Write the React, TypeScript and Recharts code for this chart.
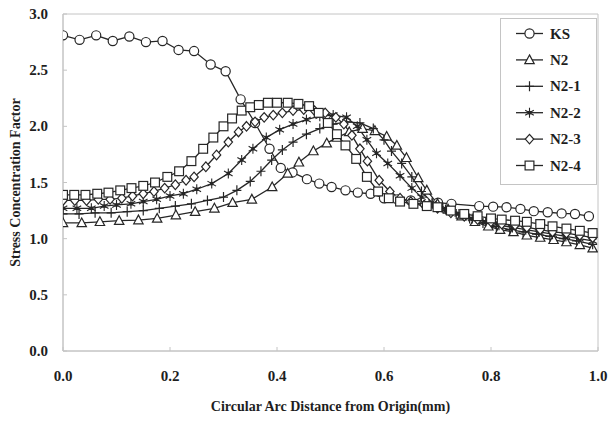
import React from 'react';
import { LineChart, Line, XAxis, YAxis, ReferenceArea, Legend } from 'recharts';

// ---- data ----
const ksX = [0, 0.031, 0.062, 0.093, 0.124, 0.155, 0.186, 0.216, 0.245, 0.276, 0.304, 0.332, 0.359, 0.386, 0.407, 0.429, 0.456, 0.479, 0.502, 0.528, 0.551, 0.575, 0.6, 0.625, 0.65, 0.676, 0.701, 0.726, 0.778, 0.804, 0.829, 0.855, 0.88, 0.906, 0.932, 0.957, 0.983];
const ksY = [2.81, 2.77, 2.81, 2.76, 2.8, 2.75, 2.76, 2.68, 2.67, 2.55, 2.49, 2.24, 2.03, 1.8, 1.63, 1.59, 1.53, 1.49, 1.46, 1.43, 1.41, 1.4, 1.36, 1.35, 1.34, 1.33, 1.32, 1.31, 1.29, 1.285, 1.28, 1.265, 1.245, 1.235, 1.225, 1.22, 1.2];

const n2X = [0, 0.035, 0.069, 0.105, 0.141, 0.176, 0.211, 0.247, 0.283, 0.317, 0.353, 0.391, 0.42, 0.441, 0.468, 0.493, 0.512, 0.535, 0.56, 0.583, 0.605, 0.624, 0.642, 0.664, 0.68, 0.7, 0.72, 0.745, 0.77, 0.795, 0.817, 0.842, 0.867, 0.892, 0.917, 0.941, 0.966, 0.99];
const n2Y = [1.14, 1.14, 1.15, 1.16, 1.165, 1.18, 1.21, 1.24, 1.27, 1.32, 1.35, 1.46, 1.58, 1.68, 1.78, 1.85, 1.9, 1.95, 1.98, 1.96, 1.91, 1.83, 1.72, 1.54, 1.43, 1.31, 1.26, 1.2, 1.15, 1.11, 1.08, 1.06, 1.03, 1.01, 0.99, 0.97, 0.945, 0.915];

const n21X = [0, 0.03, 0.06, 0.09, 0.12, 0.15, 0.18, 0.21, 0.24, 0.27, 0.3, 0.325, 0.35, 0.37, 0.39, 0.41, 0.43, 0.455, 0.48, 0.505, 0.53, 0.555, 0.58, 0.6, 0.614, 0.633, 0.652, 0.67, 0.69, 0.71, 0.735, 0.76, 0.785, 0.81, 0.835, 0.86, 0.885, 0.91, 0.935, 0.96, 0.99];
const n21Y = [1.22, 1.22, 1.23, 1.23, 1.24, 1.25, 1.27, 1.29, 1.31, 1.34, 1.37, 1.43, 1.51, 1.6, 1.7, 1.79, 1.86, 1.93, 1.98, 2.02, 2.04, 2.03, 1.98, 1.88, 1.78, 1.67, 1.55, 1.42, 1.32, 1.27, 1.22, 1.18, 1.14, 1.11, 1.08, 1.06, 1.04, 1.02, 1.0, 0.98, 0.95];

const n22X = [0, 0.026, 0.053, 0.077, 0.1, 0.127, 0.15, 0.175, 0.2, 0.225, 0.25, 0.278, 0.309, 0.334, 0.355, 0.38, 0.405, 0.43, 0.455, 0.48, 0.505, 0.53, 0.55, 0.568, 0.586, 0.607, 0.63, 0.652, 0.67, 0.69, 0.715, 0.74, 0.765, 0.79, 0.815, 0.84, 0.865, 0.89, 0.915, 0.94, 0.965, 0.99];
const n22Y = [1.27, 1.27, 1.27, 1.29, 1.3, 1.31, 1.33, 1.35, 1.38, 1.4, 1.44, 1.49, 1.58, 1.7, 1.8, 1.9, 1.97, 2.02, 2.06, 2.09, 2.1, 2.08, 2.0, 1.88, 1.76, 1.67, 1.56, 1.45, 1.37, 1.31, 1.26, 1.22, 1.18, 1.15, 1.12, 1.1, 1.08, 1.06, 1.04, 1.02, 1.0, 0.98];

const n23X = [0, 0.022, 0.044, 0.066, 0.088, 0.11, 0.13, 0.15, 0.17, 0.19, 0.21, 0.23, 0.245, 0.267, 0.287, 0.309, 0.328, 0.343, 0.359, 0.376, 0.393, 0.41, 0.43, 0.45, 0.47, 0.49, 0.51, 0.525, 0.54, 0.555, 0.569, 0.591, 0.611, 0.63, 0.65, 0.675, 0.7, 0.725, 0.75, 0.775, 0.8, 0.82, 0.845, 0.867, 0.892, 0.915, 0.941, 0.966, 0.99];
const n23Y = [1.34, 1.34, 1.34, 1.35, 1.35, 1.36, 1.38, 1.4, 1.42, 1.45, 1.48, 1.52, 1.55, 1.64, 1.745, 1.86, 1.95, 2.0, 2.04, 2.08, 2.1, 2.12, 2.14, 2.15, 2.14, 2.12, 2.08, 2.02, 1.92, 1.8, 1.69, 1.52, 1.42, 1.36, 1.33, 1.3, 1.27, 1.23, 1.2, 1.17, 1.15, 1.13, 1.12, 1.1, 1.08, 1.06, 1.05, 1.03, 1.01];

const n24X = [0, 0.021, 0.042, 0.064, 0.085, 0.107, 0.128, 0.15, 0.172, 0.195, 0.217, 0.24, 0.262, 0.281, 0.3, 0.316, 0.334, 0.35, 0.366, 0.383, 0.4, 0.42, 0.44, 0.46, 0.478, 0.495, 0.512, 0.528, 0.548, 0.568, 0.589, 0.609, 0.63, 0.655, 0.68, 0.7, 0.725, 0.75, 0.775, 0.8, 0.82, 0.845, 0.867, 0.892, 0.915, 0.941, 0.966, 0.99];
const n24Y = [1.39, 1.39, 1.39, 1.4, 1.41, 1.43, 1.45, 1.47, 1.5, 1.55, 1.6, 1.69, 1.8, 1.9, 2.0, 2.07, 2.14, 2.17, 2.19, 2.21, 2.21, 2.21, 2.2, 2.18, 2.12, 2.03, 1.93, 1.83, 1.71, 1.55, 1.42, 1.36, 1.33, 1.31, 1.29, 1.28, 1.25, 1.22, 1.2, 1.18, 1.17, 1.16, 1.15, 1.13, 1.11, 1.09, 1.07, 1.05];

const xTicks = [0, 0.2, 0.4, 0.6, 0.8, 1.0];
const yTicks = [0, 0.5, 1.0, 1.5, 2.0, 2.5, 3.0];
const seriesNames = ['KS', 'N2', 'N2-1', 'N2-2', 'N2-3', 'N2-4'];
const markerTypes = ['circle', 'triangle', 'plus', 'star', 'diamond', 'square'];

const zip = (xs: number[], ys: number[]) => xs.map((x, i) => ({ x, y: ys[i] }));
const seriesData = [zip(ksX, ksY), zip(n2X, n2Y), zip(n21X, n21Y), zip(n22X, n22Y), zip(n23X, n23Y), zip(n24X, n24Y)];

const INK = '#262626';
const AXIS = '#c4c4c4';
const FONT = '"Liberation Serif", "Times New Roman", serif';

function Marker({ type, cx, cy }: { type: string; cx: number; cy: number }) {
  const common = { fill: '#fff', stroke: INK, strokeWidth: 1.2 };
  switch (type) {
    case 'circle':
      return <circle cx={cx} cy={cy} r={4.6} {...common} />;
    case 'triangle':
      return <path d={`M${cx},${cy - 5}L${cx + 4.7},${cy + 3.7}L${cx - 4.7},${cy + 3.7}Z`} {...common} />;
    case 'plus':
      return <path d={`M${cx - 4.5},${cy}H${cx + 4.5}M${cx},${cy - 5}V${cy + 5}`} fill="none" stroke={INK} strokeWidth={1.2} />;
    case 'star':
      return (
        <g>
          <path d={`M${cx},${cy - 5}V${cy + 5}M${cx - 4.3},${cy - 2.5}L${cx + 4.3},${cy + 2.5}M${cx - 4.3},${cy + 2.5}L${cx + 4.3},${cy - 2.5}`} fill="none" stroke={INK} strokeWidth={1.1} />
          <rect x={cx - 1.7} y={cy - 1.7} width={3.4} height={3.4} fill={INK} />
        </g>
      );
    case 'diamond':
      return <path d={`M${cx},${cy - 4.8}L${cx + 4.2},${cy}L${cx},${cy + 4.8}L${cx - 4.2},${cy}Z`} {...common} />;
    case 'square':
    default:
      return <rect x={cx - 4.4} y={cy - 4.4} width={8.8} height={8.8} {...common} />;
  }
}

const XTick = (props: any) => {
  const { x, y, payload } = props;
  return (
    <g>
      <line x1={x} x2={x} y1={y} y2={y - 4} stroke={AXIS} />
      <text x={x} y={y + 25} textAnchor="middle" dominantBaseline="central" fontFamily={FONT} fontWeight="bold" fontSize={15} fill="#1e1e1e">
        {Number(payload.value).toFixed(1)}
      </text>
    </g>
  );
};

const YTick = (props: any) => {
  const { x, y, payload } = props;
  return (
    <g>
      <line x1={x} x2={x + 4} y1={y} y2={y} stroke={AXIS} />
      <text x={x - 15} y={y} textAnchor="end" dominantBaseline="central" fontFamily={FONT} fontWeight="bold" fontSize={15} fill="#1e1e1e">
        {Number(payload.value).toFixed(1)}
      </text>
    </g>
  );
};

const YLabel = (props: any) => {
  const vb = props.viewBox || {};
  const cx = 15;
  const cy = (vb.y ?? 14) + (vb.height ?? 337) / 2;
  return (
    <text x={cx} y={cy} transform={`rotate(-90 ${cx} ${cy})`} textAnchor="middle" dominantBaseline="central" fontFamily={FONT} fontWeight="bold" fontSize={14} fill="#1e1e1e">
      Stress Concentration Factor
    </text>
  );
};

const LegendBox = () => (
  <svg width={98} height={168} style={{ display: 'block' }}>
    <rect x={0.5} y={0.5} width={96} height={166} fill="#fff" stroke={AXIS} />
    {seriesNames.map((name, i) => {
      const yy = 15.5 + i * 26.4;
      return (
        <g key={name}>
          <line x1={16} x2={43} y1={yy} y2={yy} stroke={INK} strokeWidth={1.3} />
          <Marker type={markerTypes[i]} cx={29.5} cy={yy} />
          <text x={50} y={yy} dominantBaseline="central" fontFamily={FONT} fontWeight="bold" fontSize={15} fill="#1e1e1e">
            {name}
          </text>
        </g>
      );
    })}
  </svg>
);

export default function App() {
  return (
    <div style={{ position: 'absolute', left: 0, top: 0, width: 610, height: 421, background: '#fff' }}>
      <LineChart width={610} height={421} margin={{ top: 14, right: 12, left: 0, bottom: 0 }}>
        <ReferenceArea x1={0} x2={1} y1={0} y2={3} fill="none" stroke={AXIS} strokeWidth={1} ifOverflow="visible" />
        <XAxis
          dataKey="x"
          type="number"
          domain={[0, 1]}
          ticks={xTicks}
          height={70}
          tickSize={0}
          tickMargin={0}
          tickLine={false}
          axisLine={{ stroke: AXIS }}
          tick={<XTick />}
          allowDataOverflow
          label={{ value: 'Circular Arc Distance from Origin(mm)', position: 'insideBottom', offset: 10, style: { fontFamily: FONT, fontWeight: 'bold', fontSize: 14, fill: '#1e1e1e' } }}
        />
        <YAxis
          dataKey="y"
          type="number"
          domain={[0, 3]}
          ticks={yTicks}
          width={63}
          tickSize={0}
          tickMargin={0}
          tickLine={false}
          axisLine={{ stroke: AXIS }}
          tick={<YTick />}
          label={{ content: <YLabel /> }}
        />
        <Legend
          layout="vertical"
          align="center"
          verticalAlign="middle"
          wrapperStyle={{ position: 'absolute', left: 500, top: 18, width: 98, height: 168 }}
          content={() => <LegendBox />}
        />
        {seriesNames.map((name, i) => (
          <Line
            key={name}
            name={name}
            data={seriesData[i]}
            dataKey="y"
            type="linear"
            stroke={INK}
            strokeWidth={1.3}
            isAnimationActive={false}
            dot={(p: any) => <Marker key={`${name}-${p.index}`} type={markerTypes[i]} cx={p.cx} cy={p.cy} />}
            activeDot={false}
          />
        ))}
      </LineChart>
    </div>
  );
}
